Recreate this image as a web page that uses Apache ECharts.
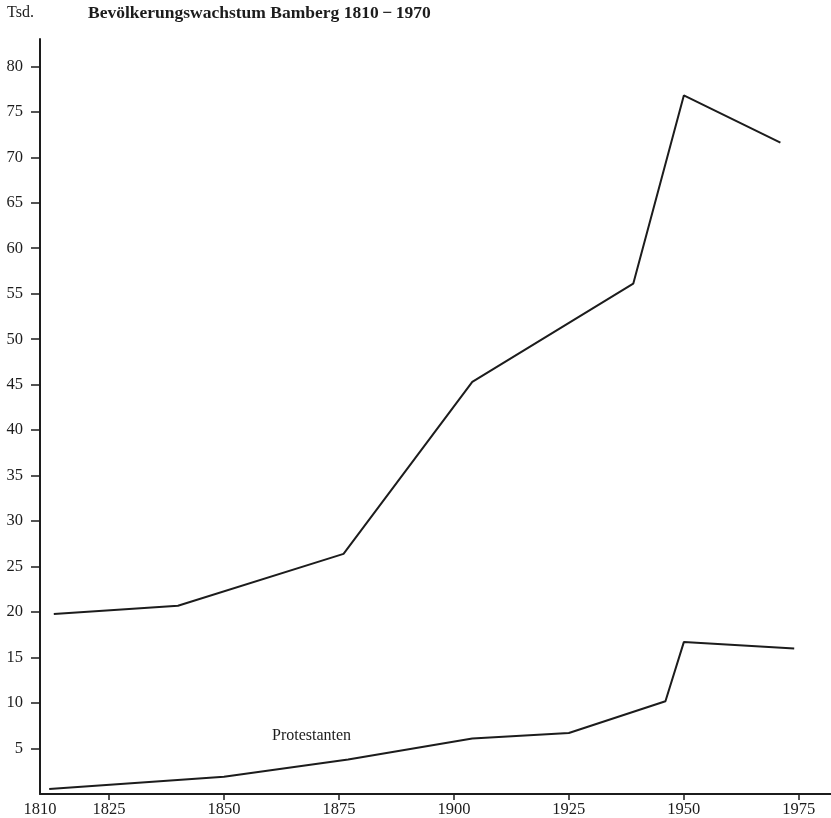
<!DOCTYPE html>
<html lang="de">

<head>
    <meta charset="UTF-8">
    <meta name="viewport" content="width=device-width, initial-scale=1.0">
    <script src="https://cdn.jsdelivr.net/npm/echarts@6/dist/echarts.min.js"></script>
    <title>Bevölkerungswachstum Bamberg 1810-1970</title>
    <style>
        html,
        body {
            margin: 0;
            width: 100%;
            height: 100%;
            background: #fff;
        }
    </style>
</head>

<body>
    <div id="chart" style="width: 831px;height: 818px;"></div>
    <script>
        // Werte in Tausend
        var totalYears = [1813, 1840, 1876, 1904, 1939, 1950, 1971];
        var totalValues = [19.8, 20.7, 26.4, 45.3, 56.1, 76.8, 71.6];

        var protYears = [1812, 1850, 1877, 1904, 1925, 1946, 1950, 1974];
        var protValues = [0.55, 1.9, 3.8, 6.1, 6.7, 10.2, 16.7, 16.0];

        var xLabels = [1810, 1825, 1850, 1875, 1900, 1925, 1950, 1975];
        var yLabels = [5, 10, 15, 20, 25, 30, 35, 40, 45, 50, 55, 60, 65, 70, 75, 80];

        function pairs(xs, ys) {
            return xs.map(function (x, i) { return [x, ys[i]]; });
        }

        var font = '"Liberation Serif", "DejaVu Serif", serif';
        var ink = '#1c1c1c';

        var chart = echarts.init(document.getElementById('chart'));
        chart.setOption({
            animation: false,
            backgroundColor: '#fff',
            grid: { left: 40, right: 0, top: 39, bottom: 23 },
            graphic: [
                {
                    type: 'text', left: 7, top: 5,
                    style: { text: 'Tsd.', font: '16px ' + font, fill: ink }
                },
                {
                    type: 'text', left: 88, top: 4,
                    style: { text: 'Bevölkerungswachstum Bamberg 1810\u2009\u2212\u20091970', font: 'bold 17.5px ' + font, fill: ink }
                },
                {
                    type: 'text', left: 272, top: 728,
                    style: { text: 'Protestanten', font: '16px ' + font, fill: ink }
                }
            ],
            xAxis: {
                type: 'value',
                min: 1810,
                max: 1982,
                splitLine: { show: false },
                axisLine: { lineStyle: { color: ink, width: 2 } },
                axisTick: {
                    customValues: xLabels.slice(1),
                    length: 6,
                    lineStyle: { color: ink, width: 1.5 }
                },
                axisLabel: {
                    customValues: xLabels,
                    formatter: function (v) { return String(v); },
                    margin: 7,
                    color: ink,
                    fontFamily: font,
                    fontSize: 16.5
                }
            },
            yAxis: {
                type: 'value',
                min: 0,
                max: 83,
                splitLine: { show: false },
                axisLine: { show: true, lineStyle: { color: ink, width: 2 } },
                axisTick: {
                    show: true,
                    customValues: yLabels,
                    length: 9,
                    lineStyle: { color: ink, width: 1.5 }
                },
                axisLabel: {
                    customValues: yLabels,
                    margin: 17,
                    color: ink,
                    fontFamily: font,
                    fontSize: 16.5
                }
            },
            series: [
                {
                    name: 'Einwohner',
                    type: 'line',
                    data: pairs(totalYears, totalValues),
                    symbol: 'none',
                    lineStyle: { color: ink, width: 2 }
                },
                {
                    name: 'Protestanten',
                    type: 'line',
                    data: pairs(protYears, protValues),
                    symbol: 'none',
                    lineStyle: { color: ink, width: 2 }
                }
            ]
        });
    </script>
</body>

</html>
